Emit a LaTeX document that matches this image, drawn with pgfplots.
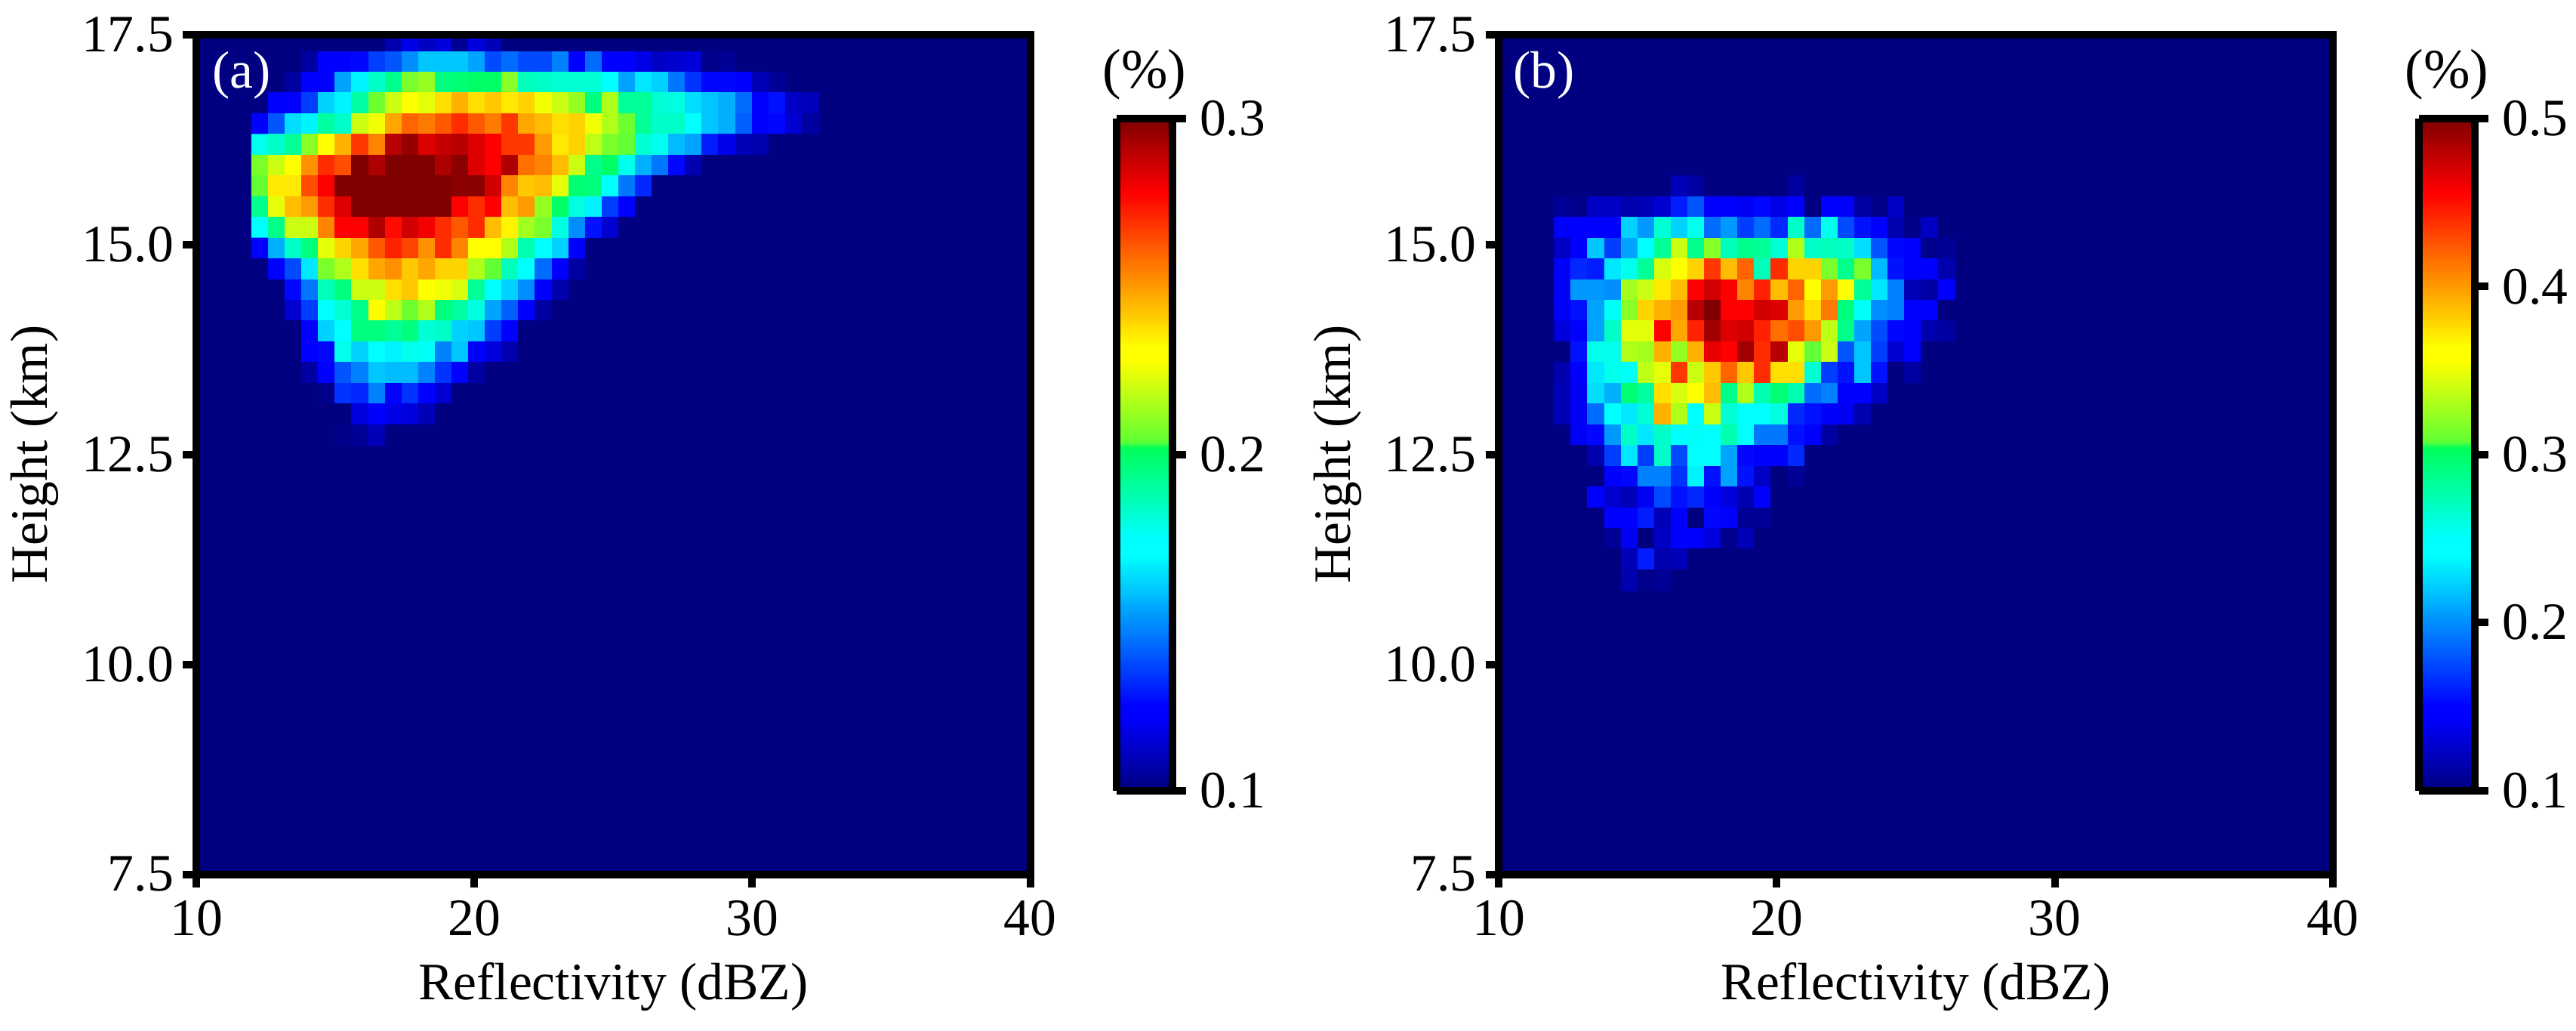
\documentclass[border=0pt]{standalone}
\usepackage{fontspec}
\setmainfont{Liberation Serif}
\usepackage{pgfplots}
\pgfplotsset{compat=1.18}

\definecolor{navybg}{rgb}{0,0,0.5}
\newcommand\chartfont{\fontsize{19.8}{24}\selectfont}

% jet as the reference renders it, with its step in the greens
\pgfplotsset{
  colormap={mpljet}{rgb(0pt)=(0,0,0.5); rgb(110pt)=(0,0,1); rgb(125pt)=(0,0,1); rgb(350pt)=(0,1,1); rgb(375pt)=(0,1,1);
    rgb(510pt)=(0,1,0.35); rgb(520pt)=(0.38,1,0.2);
    rgb(640pt)=(1,1,0); rgb(660pt)=(1,1,0); rgb(890pt)=(1,0,0); rgb(1000pt)=(0.5,0,0)},
  panel/.style={
    scale only axis, width=11.045cm, height=11.115cm,
    xmin=10, xmax=40, ymin=7.5, ymax=17.5,
    xtick={10,20,30,40}, ytick={7.5,10,12.5,15,17.5},
    xticklabel style={yshift=-0.05cm},
    yticklabel style={/pgf/number format/.cd,fixed,fixed zerofill,precision=1},
    /pgf/number format/assume math mode=true,
    tick align=outside, tick pos=left, axis on top,
    axis line style={line width=0.1cm},
    tick style={line width=0.1cm,black},
    major tick length=0.177cm,
    axis background/.style={fill=navybg},
    colormap name=mpljet,
    xlabel={Reflectivity (dBZ)}, ylabel={Height (km)},
    every axis x label/.style={at={(axis description cs:0.5,0)},anchor=base,yshift=-1.655cm},
    every axis y label/.style={at={(axis description cs:0,0.5)},rotate=90,anchor=base,yshift=1.97cm},
    colorbar sampled,
  },
  barstyle/.style={colorbar style={
    at={(1.1036,0.9001)}, anchor=north west,
    scale only axis, width=0.74cm, height=8.897cm, samples=300,
    ytick={#1}, ytick pos=right, yticklabel pos=right, tick align=outside,
    yticklabel style={xshift=0.06cm,/pgf/number format/.cd,fixed,fixed zerofill,precision=1},
    /pgf/number format/assume math mode=true,
    axis line style={line width=0.1cm},
    tick style={line width=0.1cm,black},
    major tick length=0.177cm,
  }},
}

% rows run top to bottom, columns start at 12 dBZ; each bin is 0.6 dBZ by 0.247 km
\newcommand\buildcells[2]{%
  \gdef\cells{}%
  \foreach \row [count=\j from 0] in {#2}{%
    \foreach \v [count=\i from 0] in \row {%
      \pgfmathsetmacro\cx{12.3+0.6*\i}%
      \pgfmathsetmacro\cy{#1-0.247*\j}%
      \xdef\cells{\cells (\cx,\cy) [0.\v]}%
    }%
  }%
}

\begin{document}
\begin{tikzpicture}[every node/.append style={font=\chartfont}]
\path[use as bounding box] (0,0) rectangle (34.12,13.64);

\buildcells{17.4235}{
{100,100,100,100,100,100,100,100,108,118,112,116,104,116,110,100,100,100,100,100,100,100,100,100,100,100,100,100,100,100,100,100,100,100},
{100,100,100,106,122,124,126,136,140,150,160,160,160,154,138,144,138,138,148,122,144,125,125,118,112,114,116,102,104,100,100,100,100,100},
{100,100,106,122,124,154,168,184,194,208,212,196,198,200,200,210,186,184,182,182,182,172,154,166,162,146,134,126,126,122,110,104,100,100},
{100,122,122,136,162,168,190,206,220,230,224,238,246,238,242,236,240,226,220,212,196,216,192,192,182,180,164,160,156,144,124,128,112,110},
{124,140,164,168,190,184,220,226,248,260,256,262,270,262,256,268,248,244,238,240,226,216,206,192,184,184,174,160,156,142,124,126,114,106},
{178,184,192,210,228,246,268,254,290,296,284,288,290,284,278,268,268,250,236,240,218,208,204,182,178,158,154,130,118,110,108,100,100,100},
{208,220,228,252,270,264,300,292,300,300,300,292,298,284,278,292,258,254,244,220,194,200,178,156,146,126,108,100,100,100,100,100,100,100},
{204,236,236,264,278,300,300,300,300,300,300,300,298,298,286,254,242,244,224,198,196,172,146,132,100,100,100,100,100,100,100,100,100,100},
{194,224,244,250,270,284,300,300,300,300,300,300,278,270,278,244,250,212,200,180,168,136,124,100,100,100,100,100,100,100,100,100,100,100},
{172,194,220,220,254,278,278,292,276,286,280,270,262,270,244,234,214,208,180,150,128,114,100,100,100,100,100,100,100,100,100,100,100,100},
{122,156,184,196,224,240,248,262,272,266,252,270,254,232,232,216,188,174,162,122,100,100,100,100,100,100,100,100,100,100,100,100,100,100},
{100,124,138,166,208,216,238,248,252,242,248,240,240,216,204,186,170,144,124,106,100,100,100,100,100,100,100,100,100,100,100,100,100,100},
{100,100,126,146,186,196,220,220,238,242,230,226,222,192,170,162,150,122,108,100,100,100,100,100,100,100,100,100,100,100,100,100,100,100},
{100,100,114,136,170,182,194,232,218,206,216,196,190,180,154,142,122,106,100,100,100,100,100,100,100,100,100,100,100,100,100,100,100,100},
{100,100,100,122,162,174,196,196,192,196,182,184,162,160,136,122,100,100,100,100,100,100,100,100,100,100,100,100,100,100,100,100,100,100},
{100,100,100,122,126,178,162,174,168,178,176,148,160,122,116,108,100,100,100,100,100,100,100,100,100,100,100,100,100,100,100,100,100,100},
{100,100,100,106,122,140,148,160,158,158,148,134,122,106,100,100,100,100,100,100,100,100,100,100,100,100,100,100,100,100,100,100,100,100},
{100,100,100,100,102,134,132,148,124,134,122,114,100,100,100,100,100,100,100,100,100,100,100,100,100,100,100,100,100,100,100,100,100,100},
{100,100,100,100,100,100,116,122,118,116,110,100,100,100,100,100,100,100,100,100,100,100,100,100,100,100,100,100,100,100,100,100,100,100},
{100,100,100,100,100,102,104,110,100,100,100,100,100,100,100,100,100,100,100,100,100,100,100,100,100,100,100,100,100,100,100,100,100,100}}
\begin{axis}[panel, barstyle={0.1,0.2,0.3}, at={(2.60cm,2.065cm)}, anchor=south west,
    point meta min=0.1, point meta max=0.3]
\edef\doplot{\noexpand\addplot[matrix plot*, mesh/cols=34, point meta=explicit] coordinates {\cells};}
\doplot
\node[white] at (rel axis cs:0.0543,0.9514) {(a)};
\end{axis}

\buildcells{15.6945}{
{100,100,100,100,100,100,100,120,112,100,100,100,100,100,112,100,100,100,100,100,100,100,100,100},
{108,104,124,124,116,120,128,160,180,144,144,140,152,136,144,100,144,144,112,104,124,100,100,100},
{144,144,148,144,224,204,264,224,256,188,204,172,188,164,268,188,256,176,156,148,116,104,124,100},
{124,144,220,172,208,244,284,340,288,320,272,288,284,264,332,268,272,268,228,180,152,144,104,108},
{144,164,160,232,256,284,344,360,380,436,388,420,272,440,380,380,316,288,316,216,156,144,144,116},
{144,204,204,200,328,340,372,388,456,472,456,408,444,388,420,360,400,364,284,232,196,120,112,148},
{144,156,208,252,320,380,392,400,480,500,456,456,472,468,400,376,412,292,252,200,196,144,144,100},
{132,144,208,268,348,348,456,396,444,488,468,472,444,416,428,400,336,288,208,176,152,144,116,112},
{100,156,256,256,332,328,392,324,392,464,456,488,440,480,348,308,340,180,220,172,128,144,100,100},
{116,144,232,256,252,336,348,436,340,384,420,384,440,376,376,264,172,156,220,156,100,112,100,100},
{120,140,228,212,296,280,376,344,360,388,288,332,276,296,276,188,196,144,144,124,100,100,100,100},
{120,140,188,244,232,264,392,332,240,340,264,240,248,260,164,156,144,140,116,100,100,100,100,100},
{100,140,152,204,268,232,268,248,252,248,276,248,192,192,156,144,112,100,100,100,100,100,100,100},
{100,100,116,172,232,172,268,176,248,240,208,152,144,144,164,100,100,100,100,100,100,100,100,100},
{100,100,100,144,152,196,196,168,236,156,208,156,124,100,108,100,100,100,100,100,100,100,100,100},
{100,100,144,128,120,140,176,156,164,144,132,116,144,100,100,100,100,100,100,100,100,100,100,100},
{100,100,100,144,144,160,120,144,100,152,144,108,108,100,100,100,100,100,100,100,100,100,100,100},
{100,100,100,108,140,100,124,144,144,132,104,120,100,100,100,100,100,100,100,100,100,100,100,100},
{100,100,100,100,120,160,116,120,100,100,100,100,100,100,100,100,100,100,100,100,100,100,100,100},
{100,100,100,100,116,104,108,100,100,100,100,100,100,100,100,100,100,100,100,100,100,100,100,100}}
\begin{axis}[panel, barstyle={0.1,0.2,0.3,0.4,0.5}, at={(19.853cm,2.065cm)}, anchor=south west,
    point meta min=0.1, point meta max=0.5]
\edef\doplot{\noexpand\addplot[matrix plot*, mesh/cols=24, point meta=explicit] coordinates {\cells};}
\doplot
\node[white] at (rel axis cs:0.0543,0.9514) {(b)};
\end{axis}

\node[font=\fontsize{21}{25}\selectfont] at (15.16,12.65) {(\%)};
\node[font=\fontsize{21}{25}\selectfont] at (32.41,12.65) {(\%)};
\end{tikzpicture}
\end{document}
